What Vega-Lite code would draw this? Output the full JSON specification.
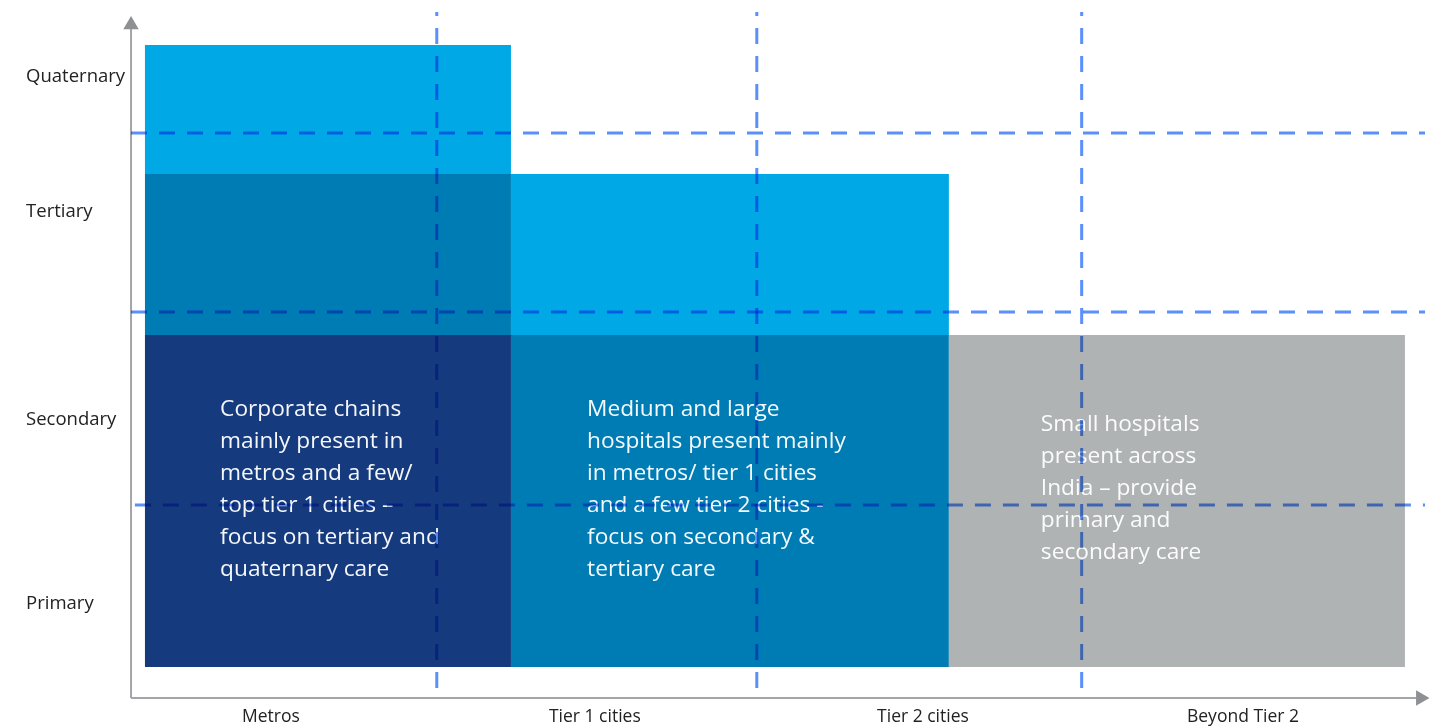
{
  "$schema": "https://vega.github.io/schema/vega-lite/v6.json",
  "width": 1328,
  "height": 698,
  "padding": {"left": 109, "top": 0, "right": 8, "bottom": 28},
  "autosize": {"type": "none"},
  "background": "#ffffff",
  "config": {"view": {"stroke": null}, "font": "Open Sans"},
  "datasets": {
    "boxes": [
      {"column": "Metros", "tone": "light", "x": 0.111, "x2": 1.241, "y": 3.461, "y2": 2.778},
      {"column": "Metros", "tone": "mid", "x": 0.111, "x2": 1.241, "y": 2.778, "y2": 1.924},
      {"column": "Metros", "tone": "dark", "x": 0.111, "x2": 1.241, "y": 1.924, "y2": 0.164},
      {"column": "Tier 1 cities", "tone": "light", "x": 1.241, "x2": 2.593, "y": 2.778, "y2": 1.924},
      {"column": "Tier 1 cities", "tone": "mid", "x": 1.241, "x2": 2.593, "y": 1.924, "y2": 0.164},
      {"column": "Beyond", "tone": "grey", "x": 2.593, "x2": 4.001, "y": 1.924, "y2": 0.164}
    ],
    "notes": [
      {"x": 0.343, "y": 1.592, "label": "Corporate chains\nmainly present in\nmetros and a few/\ntop tier 1 cities –\nfocus on tertiary and\nquaternary care"},
      {"x": 1.476, "y": 1.592, "label": "Medium and large\nhospitals present mainly\nin metros/ tier 1 cities\nand a few tier 2 cities -\nfocus on secondary &\ntertiary care"},
      {"x": 2.877, "y": 1.513, "label": "Small hospitals\npresent across\nIndia – provide\nprimary and\nsecondary care"}
    ],
    "dashes": [
      {"x": 0.068, "x2": 4.063, "y": 2.995, "y2": 2.995},
      {"x": 0.068, "x2": 4.063, "y": 2.046, "y2": 2.046},
      {"x": 0.08, "x2": 4.063, "y": 1.023, "y2": 1.023},
      {"x": 1.012, "x2": 1.012, "y": 0.053, "y2": 3.636},
      {"x": 2.0, "x2": 2.0, "y": 0.053, "y2": 3.636},
      {"x": 3.003, "x2": 3.003, "y": 0.053, "y2": 3.636}
    ],
    "axes": [
      {"x": 0.068, "x2": 0.068, "y": 0, "y2": 3.56},
      {"x": 0.068, "x2": 4.035, "y": 0, "y2": 0}
    ],
    "arrows": [
      {"x": 0.068, "y": 3.58, "dir": "up"},
      {"x": 4.056, "y": 0, "dir": "right"}
    ],
    "ylabels": [
      {"x": -0.256, "y": 3.265, "label": "Quaternary"},
      {"x": -0.256, "y": 2.548, "label": "Tertiary"},
      {"x": -0.256, "y": 1.447, "label": "Secondary"},
      {"x": -0.256, "y": 0.472, "label": "Primary"}
    ],
    "xlabels": [
      {"x": 0.5, "y": -0.127, "label": "Metros"},
      {"x": 1.5, "y": -0.127, "label": "Tier 1 cities"},
      {"x": 2.513, "y": -0.127, "label": "Tier 2 cities"},
      {"x": 3.501, "y": -0.127, "label": "Beyond Tier 2"}
    ]
  },
  "layer": [
    {
      "data": {"name": "boxes"},
      "mark": {"type": "rect"},
      "encoding": {
        "x": {"field": "x", "type": "quantitative", "scale": {"domain": [0, 4.1], "nice": false, "zero": false}, "axis": null},
        "x2": {"field": "x2"},
        "y": {"field": "y", "type": "quantitative", "scale": {"domain": [0, 3.7], "nice": false, "zero": false}, "axis": null},
        "y2": {"field": "y2"},
        "color": {"field": "tone", "type": "nominal", "legend": null,
          "scale": {"domain": ["light", "mid", "dark", "grey"], "range": ["#00a9e6", "#007cb5", "#163a7e", "#b0b3b4"]}}
      }
    },
    {
      "data": {"name": "notes"},
      "mark": {"type": "text", "align": "left", "baseline": "top", "fontSize": 22.7, "lineHeight": 32, "lineBreak": "\n", "color": "#ffffff", "opacity": 0.96, "font": "Open Sans"},
      "encoding": {
        "x": {"field": "x", "type": "quantitative", "scale": {"domain": [0, 4.1], "nice": false, "zero": false}, "axis": null},
        "y": {"field": "y", "type": "quantitative", "scale": {"domain": [0, 3.7], "nice": false, "zero": false}, "axis": null},
        "text": {"field": "label"}
      }
    },
    {
      "data": {"name": "axes"},
      "mark": {"type": "rule", "color": "#a3a5a8", "strokeWidth": 2},
      "encoding": {
        "x": {"field": "x", "type": "quantitative", "scale": {"domain": [0, 4.1], "nice": false, "zero": false}, "axis": null},
        "x2": {"field": "x2"},
        "y": {"field": "y", "type": "quantitative", "scale": {"domain": [0, 3.7], "nice": false, "zero": false}, "axis": null},
        "y2": {"field": "y2"}
      }
    },
    {
      "data": {"name": "arrows"},
      "mark": {"type": "point", "filled": true, "color": "#8e9094", "size": 240, "opacity": 1},
      "encoding": {
        "x": {"field": "x", "type": "quantitative", "scale": {"domain": [0, 4.1], "nice": false, "zero": false}, "axis": null},
        "y": {"field": "y", "type": "quantitative", "scale": {"domain": [0, 3.7], "nice": false, "zero": false}, "axis": null},
        "shape": {"field": "dir", "type": "nominal", "legend": null,
          "scale": {"domain": ["up", "right"], "range": ["triangle-up", "triangle-right"]}}
      }
    },
    {
      "data": {"name": "dashes"},
      "mark": {"type": "rule", "color": "#5b8ff9", "strokeWidth": 3, "strokeDash": [16, 12], "blend": "multiply"},
      "encoding": {
        "x": {"field": "x", "type": "quantitative", "scale": {"domain": [0, 4.1], "nice": false, "zero": false}, "axis": null},
        "x2": {"field": "x2"},
        "y": {"field": "y", "type": "quantitative", "scale": {"domain": [0, 3.7], "nice": false, "zero": false}, "axis": null},
        "y2": {"field": "y2"}
      }
    },
    {
      "data": {"name": "ylabels"},
      "mark": {"type": "text", "align": "left", "baseline": "alphabetic", "fontSize": 18.5, "color": "#222222", "font": "Open Sans"},
      "encoding": {
        "x": {"field": "x", "type": "quantitative", "scale": {"domain": [0, 4.1], "nice": false, "zero": false}, "axis": null},
        "y": {"field": "y", "type": "quantitative", "scale": {"domain": [0, 3.7], "nice": false, "zero": false}, "axis": null},
        "text": {"field": "label"}
      }
    },
    {
      "data": {"name": "xlabels"},
      "mark": {"type": "text", "align": "center", "baseline": "alphabetic", "fontSize": 17.5, "color": "#222222", "font": "Open Sans"},
      "encoding": {
        "x": {"field": "x", "type": "quantitative", "scale": {"domain": [0, 4.1], "nice": false, "zero": false}, "axis": null},
        "y": {"field": "y", "type": "quantitative", "scale": {"domain": [0, 3.7], "nice": false, "zero": false}, "axis": null},
        "text": {"field": "label"}
      }
    }
  ]
}
